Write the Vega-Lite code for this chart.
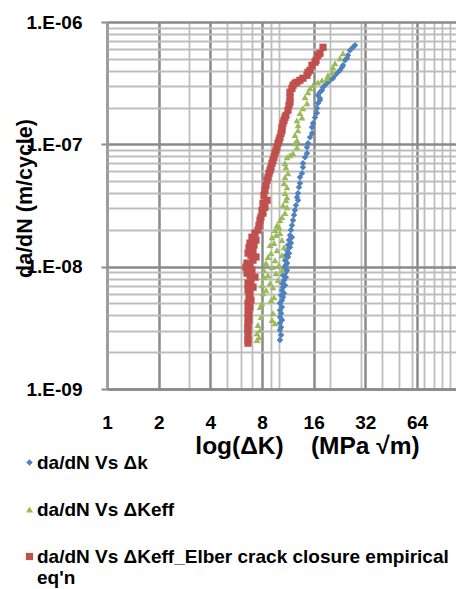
{
"$schema": "https://vega.github.io/schema/vega-lite/v6.json",
"width": 349, "height": 367,
"autosize": {"type": "none"},
"padding": {"left": 107, "top": 22, "right": 0, "bottom": 200},
"background": "white",
"config": {"view": {"stroke": null}, "font": "Liberation Sans"},
"data": {"values": [
{"series":"da/dN Vs Δk","dK":27.86,"dadN":6.45e-7},
{"series":"da/dN Vs Δk","dK":27.12,"dadN":6.21e-7},
{"series":"da/dN Vs Δk","dK":26.05,"dadN":5.87e-7},
{"series":"da/dN Vs Δk","dK":25.35,"dadN":5.34e-7},
{"series":"da/dN Vs Δk","dK":25.02,"dadN":5.05e-7},
{"series":"da/dN Vs Δk","dK":24.35,"dadN":4.86e-7},
{"series":"da/dN Vs Δk","dK":23.71,"dadN":4.43e-7},
{"series":"da/dN Vs Δk","dK":23.40,"dadN":4.26e-7},
{"series":"da/dN Vs Δk","dK":22.77,"dadN":4.03e-7},
{"series":"da/dN Vs Δk","dK":22.17,"dadN":3.88e-7},
{"series":"da/dN Vs Δk","dK":21.30,"dadN":3.67e-7},
{"series":"da/dN Vs Δk","dK":20.73,"dadN":3.47e-7},
{"series":"da/dN Vs Δk","dK":19.92,"dadN":3.34e-7},
{"series":"da/dN Vs Δk","dK":19.38,"dadN":3.22e-7},
{"series":"da/dN Vs Δk","dK":18.62,"dadN":3.04e-7},
{"series":"da/dN Vs Δk","dK":18.13,"dadN":2.93e-7},
{"series":"da/dN Vs Δk","dK":17.89,"dadN":2.77e-7},
{"series":"da/dN Vs Δk","dK":17.41,"dadN":2.67e-7},
{"series":"da/dN Vs Δk","dK":16.95,"dadN":2.52e-7},
{"series":"da/dN Vs Δk","dK":17.41,"dadN":2.38e-7},
{"series":"da/dN Vs Δk","dK":17.41,"dadN":2.29e-7},
{"series":"da/dN Vs Δk","dK":16.95,"dadN":2.17e-7},
{"series":"da/dN Vs Δk","dK":16.72,"dadN":1.97e-7},
{"series":"da/dN Vs Δk","dK":16.72,"dadN":1.80e-7},
{"series":"da/dN Vs Δk","dK":16.29,"dadN":1.66e-7},
{"series":"da/dN Vs Δk","dK":15.86,"dadN":1.49e-7},
{"series":"da/dN Vs Δk","dK":15.64,"dadN":1.38e-7},
{"series":"da/dN Vs Δk","dK":15.64,"dadN":1.23e-7},
{"series":"da/dN Vs Δk","dK":15.23,"dadN":1.14e-7},
{"series":"da/dN Vs Δk","dK":14.83,"dadN":1.02e-7},
{"series":"da/dN Vs Δk","dK":14.63,"dadN":9.47e-8},
{"series":"da/dN Vs Δk","dK":14.63,"dadN":8.46e-8},
{"series":"da/dN Vs Δk","dK":14.24,"dadN":7.84e-8},
{"series":"da/dN Vs Δk","dK":13.86,"dadN":7.01e-8},
{"series":"da/dN Vs Δk","dK":13.86,"dadN":6.50e-8},
{"series":"da/dN Vs Δk","dK":13.68,"dadN":5.81e-8},
{"series":"da/dN Vs Δk","dK":13.31,"dadN":5.38e-8},
{"series":"da/dN Vs Δk","dK":13.31,"dadN":4.81e-8},
{"series":"da/dN Vs Δk","dK":13.14,"dadN":4.46e-8},
{"series":"da/dN Vs Δk","dK":12.97,"dadN":3.99e-8},
{"series":"da/dN Vs Δk","dK":12.79,"dadN":3.70e-8},
{"series":"da/dN Vs Δk","dK":12.97,"dadN":3.49e-8},
{"series":"da/dN Vs Δk","dK":12.62,"dadN":3.18e-8},
{"series":"da/dN Vs Δk","dK":12.45,"dadN":2.89e-8},
{"series":"da/dN Vs Δk","dK":12.29,"dadN":2.64e-8},
{"series":"da/dN Vs Δk","dK":12.13,"dadN":2.40e-8},
{"series":"da/dN Vs Δk","dK":11.96,"dadN":2.18e-8},
{"series":"da/dN Vs Δk","dK":11.80,"dadN":1.99e-8},
{"series":"da/dN Vs Δk","dK":11.65,"dadN":1.81e-8},
{"series":"da/dN Vs Δk","dK":11.96,"dadN":1.74e-8},
{"series":"da/dN Vs Δk","dK":11.49,"dadN":1.65e-8},
{"series":"da/dN Vs Δk","dK":11.80,"dadN":1.56e-8},
{"series":"da/dN Vs Δk","dK":11.34,"dadN":1.50e-8},
{"series":"da/dN Vs Δk","dK":11.65,"dadN":1.44e-8},
{"series":"da/dN Vs Δk","dK":11.19,"dadN":1.36e-8},
{"series":"da/dN Vs Δk","dK":11.49,"dadN":1.29e-8},
{"series":"da/dN Vs Δk","dK":11.03,"dadN":1.24e-8},
{"series":"da/dN Vs Δk","dK":11.34,"dadN":1.20e-8},
{"series":"da/dN Vs Δk","dK":10.89,"dadN":1.13e-8},
{"series":"da/dN Vs Δk","dK":11.19,"dadN":1.07e-8},
{"series":"da/dN Vs Δk","dK":11.03,"dadN":1.03e-8},
{"series":"da/dN Vs Δk","dK":10.75,"dadN":9.91e-9},
{"series":"da/dN Vs Δk","dK":11.19,"dadN":9.36e-9},
{"series":"da/dN Vs Δk","dK":10.89,"dadN":8.85e-9},
{"series":"da/dN Vs Δk","dK":10.60,"dadN":8.52e-9},
{"series":"da/dN Vs Δk","dK":11.03,"dadN":8.21e-9},
{"series":"da/dN Vs Δk","dK":10.75,"dadN":7.76e-9},
{"series":"da/dN Vs Δk","dK":10.46,"dadN":7.33e-9},
{"series":"da/dN Vs Δk","dK":10.89,"dadN":7.06e-9},
{"series":"da/dN Vs Δk","dK":10.60,"dadN":6.80e-9},
{"series":"da/dN Vs Δk","dK":10.46,"dadN":6.43e-9},
{"series":"da/dN Vs Δk","dK":10.75,"dadN":6.07e-9},
{"series":"da/dN Vs Δk","dK":10.33,"dadN":5.85e-9},
{"series":"da/dN Vs Δk","dK":10.60,"dadN":5.63e-9},
{"series":"da/dN Vs Δk","dK":10.46,"dadN":5.32e-9},
{"series":"da/dN Vs Δk","dK":10.18,"dadN":5.03e-9},
{"series":"da/dN Vs Δk","dK":10.46,"dadN":4.67e-9},
{"series":"da/dN Vs Δk","dK":10.18,"dadN":4.41e-9},
{"series":"da/dN Vs Δk","dK":10.33,"dadN":4.17e-9},
{"series":"da/dN Vs Δk","dK":10.18,"dadN":3.87e-9},
{"series":"da/dN Vs Δk","dK":10.46,"dadN":3.66e-9},
{"series":"da/dN Vs Δk","dK":10.18,"dadN":3.45e-9},
{"series":"da/dN Vs Δk","dK":10.33,"dadN":3.20e-9},
{"series":"da/dN Vs Δk","dK":10.18,"dadN":3.03e-9},
{"series":"da/dN Vs Δk","dK":10.33,"dadN":2.76e-9},
{"series":"da/dN Vs Δk","dK":10.18,"dadN":2.51e-9},
{"series":"da/dN Vs ΔKeff","dK":23.71,"dadN":5.55e-7},
{"series":"da/dN Vs ΔKeff","dK":22.77,"dadN":5.05e-7},
{"series":"da/dN Vs ΔKeff","dK":21.30,"dadN":4.60e-7},
{"series":"da/dN Vs ΔKeff","dK":20.73,"dadN":4.26e-7},
{"series":"da/dN Vs ΔKeff","dK":20.46,"dadN":3.88e-7},
{"series":"da/dN Vs ΔKeff","dK":19.38,"dadN":3.67e-7},
{"series":"da/dN Vs ΔKeff","dK":19.13,"dadN":3.47e-7},
{"series":"da/dN Vs ΔKeff","dK":17.89,"dadN":3.34e-7},
{"series":"da/dN Vs ΔKeff","dK":16.95,"dadN":3.22e-7},
{"series":"da/dN Vs ΔKeff","dK":15.86,"dadN":3.04e-7},
{"series":"da/dN Vs ΔKeff","dK":15.23,"dadN":2.87e-7},
{"series":"da/dN Vs ΔKeff","dK":14.83,"dadN":2.67e-7},
{"series":"da/dN Vs ΔKeff","dK":14.24,"dadN":2.43e-7},
{"series":"da/dN Vs ΔKeff","dK":14.63,"dadN":2.17e-7},
{"series":"da/dN Vs ΔKeff","dK":13.86,"dadN":1.97e-7},
{"series":"da/dN Vs ΔKeff","dK":13.31,"dadN":1.80e-7},
{"series":"da/dN Vs ΔKeff","dK":13.68,"dadN":1.66e-7},
{"series":"da/dN Vs ΔKeff","dK":12.79,"dadN":1.57e-7},
{"series":"da/dN Vs ΔKeff","dK":12.97,"dadN":1.43e-7},
{"series":"da/dN Vs ΔKeff","dK":12.97,"dadN":1.30e-7},
{"series":"da/dN Vs ΔKeff","dK":12.45,"dadN":1.19e-7},
{"series":"da/dN Vs ΔKeff","dK":12.79,"dadN":1.08e-7},
{"series":"da/dN Vs ΔKeff","dK":12.45,"dadN":1.02e-7},
{"series":"da/dN Vs ΔKeff","dK":12.79,"dadN":9.47e-8},
{"series":"da/dN Vs ΔKeff","dK":12.13,"dadN":8.46e-8},
{"series":"da/dN Vs ΔKeff","dK":11.65,"dadN":8.15e-8},
{"series":"da/dN Vs ΔKeff","dK":11.19,"dadN":7.84e-8},
{"series":"da/dN Vs ΔKeff","dK":10.89,"dadN":7.01e-8},
{"series":"da/dN Vs ΔKeff","dK":11.03,"dadN":6.50e-8},
{"series":"da/dN Vs ΔKeff","dK":11.34,"dadN":5.81e-8},
{"series":"da/dN Vs ΔKeff","dK":10.89,"dadN":5.38e-8},
{"series":"da/dN Vs ΔKeff","dK":10.75,"dadN":4.81e-8},
{"series":"da/dN Vs ΔKeff","dK":11.19,"dadN":4.46e-8},
{"series":"da/dN Vs ΔKeff","dK":10.89,"dadN":3.99e-8},
{"series":"da/dN Vs ΔKeff","dK":11.19,"dadN":3.70e-8},
{"series":"da/dN Vs ΔKeff","dK":11.03,"dadN":3.49e-8},
{"series":"da/dN Vs ΔKeff","dK":10.60,"dadN":3.18e-8},
{"series":"da/dN Vs ΔKeff","dK":11.19,"dadN":3.06e-8},
{"series":"da/dN Vs ΔKeff","dK":10.89,"dadN":2.74e-8},
{"series":"da/dN Vs ΔKeff","dK":10.46,"dadN":2.54e-8},
{"series":"da/dN Vs ΔKeff","dK":10.18,"dadN":2.40e-8},
{"series":"da/dN Vs ΔKeff","dK":9.78,"dadN":2.18e-8},
{"series":"da/dN Vs ΔKeff","dK":10.05,"dadN":2.10e-8},
{"series":"da/dN Vs ΔKeff","dK":9.52,"dadN":1.99e-8},
{"series":"da/dN Vs ΔKeff","dK":10.18,"dadN":1.88e-8},
{"series":"da/dN Vs ΔKeff","dK":9.65,"dadN":1.81e-8},
{"series":"da/dN Vs ΔKeff","dK":9.15,"dadN":1.74e-8},
{"series":"da/dN Vs ΔKeff","dK":10.46,"dadN":1.65e-8},
{"series":"da/dN Vs ΔKeff","dK":9.40,"dadN":1.56e-8},
{"series":"da/dN Vs ΔKeff","dK":8.91,"dadN":1.50e-8},
{"series":"da/dN Vs ΔKeff","dK":10.75,"dadN":1.44e-8},
{"series":"da/dN Vs ΔKeff","dK":9.78,"dadN":1.36e-8},
{"series":"da/dN Vs ΔKeff","dK":9.03,"dadN":1.29e-8},
{"series":"da/dN Vs ΔKeff","dK":10.46,"dadN":1.24e-8},
{"series":"da/dN Vs ΔKeff","dK":8.67,"dadN":1.20e-8},
{"series":"da/dN Vs ΔKeff","dK":9.52,"dadN":1.13e-8},
{"series":"da/dN Vs ΔKeff","dK":8.44,"dadN":1.07e-8},
{"series":"da/dN Vs ΔKeff","dK":10.05,"dadN":1.03e-8},
{"series":"da/dN Vs ΔKeff","dK":9.15,"dadN":9.91e-9},
{"series":"da/dN Vs ΔKeff","dK":8.21,"dadN":9.36e-9},
{"series":"da/dN Vs ΔKeff","dK":10.46,"dadN":9.36e-9},
{"series":"da/dN Vs ΔKeff","dK":9.65,"dadN":8.85e-9},
{"series":"da/dN Vs ΔKeff","dK":8.67,"dadN":8.52e-9},
{"series":"da/dN Vs ΔKeff","dK":8.21,"dadN":8.21e-9},
{"series":"da/dN Vs ΔKeff","dK":9.91,"dadN":7.76e-9},
{"series":"da/dN Vs ΔKeff","dK":8.91,"dadN":7.33e-9},
{"series":"da/dN Vs ΔKeff","dK":8.00,"dadN":7.06e-9},
{"series":"da/dN Vs ΔKeff","dK":9.27,"dadN":6.80e-9},
{"series":"da/dN Vs ΔKeff","dK":8.44,"dadN":6.43e-9},
{"series":"da/dN Vs ΔKeff","dK":8.11,"dadN":6.07e-9},
{"series":"da/dN Vs ΔKeff","dK":9.40,"dadN":5.63e-9},
{"series":"da/dN Vs ΔKeff","dK":9.03,"dadN":5.32e-9},
{"series":"da/dN Vs ΔKeff","dK":8.00,"dadN":5.03e-9},
{"series":"da/dN Vs ΔKeff","dK":7.79,"dadN":4.67e-9},
{"series":"da/dN Vs ΔKeff","dK":9.27,"dadN":4.17e-9},
{"series":"da/dN Vs ΔKeff","dK":7.89,"dadN":3.87e-9},
{"series":"da/dN Vs ΔKeff","dK":9.15,"dadN":3.66e-9},
{"series":"da/dN Vs ΔKeff","dK":9.52,"dadN":3.45e-9},
{"series":"da/dN Vs ΔKeff","dK":7.58,"dadN":3.33e-9},
{"series":"da/dN Vs ΔKeff","dK":7.79,"dadN":3.03e-9},
{"series":"da/dN Vs ΔKeff","dK":7.48,"dadN":2.86e-9},
{"series":"da/dN Vs ΔKeff","dK":7.68,"dadN":2.65e-9},
{"series":"da/dN Vs ΔKeff","dK":7.48,"dadN":2.51e-9},
{"series":"da/dN Vs ΔKeff_Elber crack closure empirical eq'n","dK":18.13,"dadN":6.21e-7},
{"series":"da/dN Vs ΔKeff_Elber crack closure empirical eq'n","dK":17.41,"dadN":5.55e-7},
{"series":"da/dN Vs ΔKeff_Elber crack closure empirical eq'n","dK":16.95,"dadN":5.34e-7},
{"series":"da/dN Vs ΔKeff_Elber crack closure empirical eq'n","dK":16.51,"dadN":4.86e-7},
{"series":"da/dN Vs ΔKeff_Elber crack closure empirical eq'n","dK":16.29,"dadN":4.69e-7},
{"series":"da/dN Vs ΔKeff_Elber crack closure empirical eq'n","dK":15.64,"dadN":4.43e-7},
{"series":"da/dN Vs ΔKeff_Elber crack closure empirical eq'n","dK":15.23,"dadN":4.03e-7},
{"series":"da/dN Vs ΔKeff_Elber crack closure empirical eq'n","dK":14.83,"dadN":3.88e-7},
{"series":"da/dN Vs ΔKeff_Elber crack closure empirical eq'n","dK":14.63,"dadN":3.67e-7},
{"series":"da/dN Vs ΔKeff_Elber crack closure empirical eq'n","dK":13.86,"dadN":3.47e-7},
{"series":"da/dN Vs ΔKeff_Elber crack closure empirical eq'n","dK":13.31,"dadN":3.34e-7},
{"series":"da/dN Vs ΔKeff_Elber crack closure empirical eq'n","dK":12.79,"dadN":3.22e-7},
{"series":"da/dN Vs ΔKeff_Elber crack closure empirical eq'n","dK":12.45,"dadN":3.16e-7},
{"series":"da/dN Vs ΔKeff_Elber crack closure empirical eq'n","dK":12.13,"dadN":3.04e-7},
{"series":"da/dN Vs ΔKeff_Elber crack closure empirical eq'n","dK":11.96,"dadN":2.87e-7},
{"series":"da/dN Vs ΔKeff_Elber crack closure empirical eq'n","dK":11.65,"dadN":2.67e-7},
{"series":"da/dN Vs ΔKeff_Elber crack closure empirical eq'n","dK":11.65,"dadN":2.43e-7},
{"series":"da/dN Vs ΔKeff_Elber crack closure empirical eq'n","dK":11.65,"dadN":2.21e-7},
{"series":"da/dN Vs ΔKeff_Elber crack closure empirical eq'n","dK":11.49,"dadN":2.09e-7},
{"series":"da/dN Vs ΔKeff_Elber crack closure empirical eq'n","dK":11.34,"dadN":1.90e-7},
{"series":"da/dN Vs ΔKeff_Elber crack closure empirical eq'n","dK":11.03,"dadN":1.73e-7},
{"series":"da/dN Vs ΔKeff_Elber crack closure empirical eq'n","dK":10.89,"dadN":1.66e-7},
{"series":"da/dN Vs ΔKeff_Elber crack closure empirical eq'n","dK":10.75,"dadN":1.57e-7},
{"series":"da/dN Vs ΔKeff_Elber crack closure empirical eq'n","dK":10.60,"dadN":1.49e-7},
{"series":"da/dN Vs ΔKeff_Elber crack closure empirical eq'n","dK":10.46,"dadN":1.38e-7},
{"series":"da/dN Vs ΔKeff_Elber crack closure empirical eq'n","dK":10.46,"dadN":1.30e-7},
{"series":"da/dN Vs ΔKeff_Elber crack closure empirical eq'n","dK":10.33,"dadN":1.23e-7},
{"series":"da/dN Vs ΔKeff_Elber crack closure empirical eq'n","dK":10.18,"dadN":1.14e-7},
{"series":"da/dN Vs ΔKeff_Elber crack closure empirical eq'n","dK":10.05,"dadN":1.08e-7},
{"series":"da/dN Vs ΔKeff_Elber crack closure empirical eq'n","dK":9.91,"dadN":1.02e-7},
{"series":"da/dN Vs ΔKeff_Elber crack closure empirical eq'n","dK":9.78,"dadN":9.47e-8},
{"series":"da/dN Vs ΔKeff_Elber crack closure empirical eq'n","dK":9.65,"dadN":8.95e-8},
{"series":"da/dN Vs ΔKeff_Elber crack closure empirical eq'n","dK":9.52,"dadN":8.46e-8},
{"series":"da/dN Vs ΔKeff_Elber crack closure empirical eq'n","dK":9.40,"dadN":7.84e-8},
{"series":"da/dN Vs ΔKeff_Elber crack closure empirical eq'n","dK":9.27,"dadN":7.42e-8},
{"series":"da/dN Vs ΔKeff_Elber crack closure empirical eq'n","dK":9.15,"dadN":7.01e-8},
{"series":"da/dN Vs ΔKeff_Elber crack closure empirical eq'n","dK":9.03,"dadN":6.50e-8},
{"series":"da/dN Vs ΔKeff_Elber crack closure empirical eq'n","dK":8.91,"dadN":6.14e-8},
{"series":"da/dN Vs ΔKeff_Elber crack closure empirical eq'n","dK":8.79,"dadN":5.81e-8},
{"series":"da/dN Vs ΔKeff_Elber crack closure empirical eq'n","dK":8.67,"dadN":5.38e-8},
{"series":"da/dN Vs ΔKeff_Elber crack closure empirical eq'n","dK":8.56,"dadN":5.09e-8},
{"series":"da/dN Vs ΔKeff_Elber crack closure empirical eq'n","dK":8.44,"dadN":4.63e-8},
{"series":"da/dN Vs ΔKeff_Elber crack closure empirical eq'n","dK":8.33,"dadN":4.22e-8},
{"series":"da/dN Vs ΔKeff_Elber crack closure empirical eq'n","dK":8.21,"dadN":3.84e-8},
{"series":"da/dN Vs ΔKeff_Elber crack closure empirical eq'n","dK":8.56,"dadN":3.49e-8},
{"series":"da/dN Vs ΔKeff_Elber crack closure empirical eq'n","dK":8.11,"dadN":3.30e-8},
{"series":"da/dN Vs ΔKeff_Elber crack closure empirical eq'n","dK":8.33,"dadN":3.06e-8},
{"series":"da/dN Vs ΔKeff_Elber crack closure empirical eq'n","dK":8.00,"dadN":2.89e-8},
{"series":"da/dN Vs ΔKeff_Elber crack closure empirical eq'n","dK":8.11,"dadN":2.74e-8},
{"series":"da/dN Vs ΔKeff_Elber crack closure empirical eq'n","dK":7.89,"dadN":2.54e-8},
{"series":"da/dN Vs ΔKeff_Elber crack closure empirical eq'n","dK":7.79,"dadN":2.40e-8},
{"series":"da/dN Vs ΔKeff_Elber crack closure empirical eq'n","dK":7.68,"dadN":2.18e-8},
{"series":"da/dN Vs ΔKeff_Elber crack closure empirical eq'n","dK":7.58,"dadN":1.99e-8},
{"series":"da/dN Vs ΔKeff_Elber crack closure empirical eq'n","dK":7.28,"dadN":1.88e-8},
{"series":"da/dN Vs ΔKeff_Elber crack closure empirical eq'n","dK":6.99,"dadN":1.74e-8},
{"series":"da/dN Vs ΔKeff_Elber crack closure empirical eq'n","dK":7.38,"dadN":1.65e-8},
{"series":"da/dN Vs ΔKeff_Elber crack closure empirical eq'n","dK":6.81,"dadN":1.56e-8},
{"series":"da/dN Vs ΔKeff_Elber crack closure empirical eq'n","dK":7.19,"dadN":1.50e-8},
{"series":"da/dN Vs ΔKeff_Elber crack closure empirical eq'n","dK":6.72,"dadN":1.44e-8},
{"series":"da/dN Vs ΔKeff_Elber crack closure empirical eq'n","dK":7.09,"dadN":1.36e-8},
{"series":"da/dN Vs ΔKeff_Elber crack closure empirical eq'n","dK":6.63,"dadN":1.29e-8},
{"series":"da/dN Vs ΔKeff_Elber crack closure empirical eq'n","dK":6.90,"dadN":1.24e-8},
{"series":"da/dN Vs ΔKeff_Elber crack closure empirical eq'n","dK":7.38,"dadN":1.20e-8},
{"series":"da/dN Vs ΔKeff_Elber crack closure empirical eq'n","dK":7.09,"dadN":1.13e-8},
{"series":"da/dN Vs ΔKeff_Elber crack closure empirical eq'n","dK":6.54,"dadN":1.07e-8},
{"series":"da/dN Vs ΔKeff_Elber crack closure empirical eq'n","dK":6.81,"dadN":1.03e-8},
{"series":"da/dN Vs ΔKeff_Elber crack closure empirical eq'n","dK":6.45,"dadN":9.91e-9},
{"series":"da/dN Vs ΔKeff_Elber crack closure empirical eq'n","dK":6.99,"dadN":9.36e-9},
{"series":"da/dN Vs ΔKeff_Elber crack closure empirical eq'n","dK":6.54,"dadN":8.85e-9},
{"series":"da/dN Vs ΔKeff_Elber crack closure empirical eq'n","dK":6.81,"dadN":8.52e-9},
{"series":"da/dN Vs ΔKeff_Elber crack closure empirical eq'n","dK":7.28,"dadN":8.21e-9},
{"series":"da/dN Vs ΔKeff_Elber crack closure empirical eq'n","dK":6.90,"dadN":7.76e-9},
{"series":"da/dN Vs ΔKeff_Elber crack closure empirical eq'n","dK":6.63,"dadN":7.33e-9},
{"series":"da/dN Vs ΔKeff_Elber crack closure empirical eq'n","dK":6.81,"dadN":7.06e-9},
{"series":"da/dN Vs ΔKeff_Elber crack closure empirical eq'n","dK":7.09,"dadN":6.80e-9},
{"series":"da/dN Vs ΔKeff_Elber crack closure empirical eq'n","dK":6.63,"dadN":6.43e-9},
{"series":"da/dN Vs ΔKeff_Elber crack closure empirical eq'n","dK":6.81,"dadN":6.07e-9},
{"series":"da/dN Vs ΔKeff_Elber crack closure empirical eq'n","dK":6.72,"dadN":5.63e-9},
{"series":"da/dN Vs ΔKeff_Elber crack closure empirical eq'n","dK":6.90,"dadN":5.32e-9},
{"series":"da/dN Vs ΔKeff_Elber crack closure empirical eq'n","dK":6.63,"dadN":5.03e-9},
{"series":"da/dN Vs ΔKeff_Elber crack closure empirical eq'n","dK":6.81,"dadN":4.67e-9},
{"series":"da/dN Vs ΔKeff_Elber crack closure empirical eq'n","dK":6.63,"dadN":4.41e-9},
{"series":"da/dN Vs ΔKeff_Elber crack closure empirical eq'n","dK":6.72,"dadN":4.17e-9},
{"series":"da/dN Vs ΔKeff_Elber crack closure empirical eq'n","dK":6.63,"dadN":3.87e-9},
{"series":"da/dN Vs ΔKeff_Elber crack closure empirical eq'n","dK":6.72,"dadN":3.66e-9},
{"series":"da/dN Vs ΔKeff_Elber crack closure empirical eq'n","dK":6.63,"dadN":3.45e-9},
{"series":"da/dN Vs ΔKeff_Elber crack closure empirical eq'n","dK":6.63,"dadN":3.20e-9},
{"series":"da/dN Vs ΔKeff_Elber crack closure empirical eq'n","dK":6.63,"dadN":3.03e-9},
{"series":"da/dN Vs ΔKeff_Elber crack closure empirical eq'n","dK":6.63,"dadN":2.76e-9},
{"series":"da/dN Vs ΔKeff_Elber crack closure empirical eq'n","dK":6.63,"dadN":2.51e-9},
{"series":"da/dN Vs ΔKeff_Elber crack closure empirical eq'n","dK":6.63,"dadN":2.37e-9}
]},
"mark": {"type": "point", "filled": true, "opacity": 1},
"encoding": {
"x": {"field": "dK", "type": "quantitative",
 "scale": {"type": "log", "base": 2, "domain": [1, 108], "nice": false},
 "axis": {
  "values": [1,2,3,4,5,6,7,8,9,10,16,20,30,32,40,50,60,64,70,80,90,100],
  "title": "log(ΔK)\u00a0\u00a0\u00a0\u00a0(MPa √m)",
  "grid": true,
  "gridColor": {"condition": {"test": "indexof([1,2,4,8,16,32,64], datum.value) >= 0", "value": "#8a8a8a"}, "value": "#bdbdbd"},
  "gridWidth": {"condition": {"test": "indexof([1,2,4,8,16,32,64], datum.value) >= 0", "value": 2.5}, "value": 1.8},
  "ticks": false, "tickSize": 0,
  "domainColor": "#8a8a8a", "domainWidth": 2.5,
  "labelExpr": "indexof([1,2,4,8,16,32,64], datum.value) >= 0 ? '' + datum.value : ''",
  "labelFont": "Liberation Sans", "labelFontWeight": "bold", "labelFontSize": 19, "labelColor": "#000000",
  "labelPadding": 24, "labelFlush": false, "labelOverlap": false, "labelBound": false,
  "titleFont": "Liberation Sans", "titleFontWeight": "bold", "titleFontSize": 24.5, "titleColor": "#000000",
  "titleX": 200, "titleY": 45, "titleBaseline": "top", "titleAlign": "center"
 }},
"y": {"field": "dadN", "type": "quantitative",
 "scale": {"type": "log", "domain": [1e-9, 1e-6], "nice": false},
 "axis": {
  "values": [1e-9,2e-9,3e-9,4e-9,5e-9,6e-9,7e-9,8e-9,9e-9,1e-8,2e-8,3e-8,4e-8,5e-8,6e-8,7e-8,8e-8,9e-8,1e-7,2e-7,3e-7,4e-7,5e-7,6e-7,7e-7,8e-7,9e-7,1e-6],
  "title": "da/dN (m/cycle)",
  "grid": true,
  "gridColor": {"condition": {"test": "abs(log(datum.value)/LN10 - round(log(datum.value)/LN10)) < 0.01", "value": "#8a8a8a"}, "value": "#bdbdbd"},
  "gridWidth": {"condition": {"test": "abs(log(datum.value)/LN10 - round(log(datum.value)/LN10)) < 0.01", "value": 2.5}, "value": 1.8},
  "ticks": true, "tickSize": 6, "tickWidth": 2,
  "tickColor": {"condition": {"test": "abs(log(datum.value)/LN10 - round(log(datum.value)/LN10)) < 0.01", "value": "#8a8a8a"}, "value": "transparent"},
  "domainColor": "#9a9a9a", "domainWidth": 2,
  "labelExpr": "abs(log(datum.value)/LN10 - round(log(datum.value)/LN10)) < 0.01 ? '1.E-0' + (-round(log(datum.value)/LN10)) : ''",
  "labelFont": "Liberation Sans", "labelFontWeight": "bold", "labelFontSize": 19, "labelColor": "#000000",
  "labelPadding": 19, "labelFlush": false, "labelOverlap": false, "labelBound": false,
  "titleFont": "Liberation Sans", "titleFontWeight": "bold", "titleFontSize": 21.5, "titleColor": "#000000",
  "titleX": -71, "titleY": 176, "titleAngle": 270, "titleBaseline": "bottom", "titleAlign": "center"
 }},
"color": {"field": "series", "type": "nominal",
 "scale": {"domain": ["da/dN Vs Δk", "da/dN Vs ΔKeff", "da/dN Vs ΔKeff_Elber crack closure empirical eq'n"], "range": ["#4F81BD", "#9BBB59", "#C0504D"]},
 "legend": {"orient": "none", "legendX": -87, "legendY": 431, "direction": "vertical", "title": null, "padding": 0,
  "labelFont": "Liberation Sans", "labelFontWeight": "bold", "labelFontSize": 19, "labelColor": "#000000", "labelLimit": 1000,
  "rowPadding": 27, "symbolSize": 30, "labelOffset": -2,
  "labelExpr": "indexof(datum.label, 'Elber') >= 0 ? ['da/dN Vs ΔKeff_Elber crack closure empirical', \"eq'n\"] : datum.label"}},
"shape": {"field": "series", "type": "nominal",
 "scale": {"domain": ["da/dN Vs Δk", "da/dN Vs ΔKeff", "da/dN Vs ΔKeff_Elber crack closure empirical eq'n"], "range": ["diamond", "triangle-up", "square"]},
 "legend": {"orient": "none", "legendX": -87, "legendY": 431, "direction": "vertical", "title": null, "padding": 0,
  "labelFont": "Liberation Sans", "labelFontWeight": "bold", "labelFontSize": 19, "labelColor": "#000000", "labelLimit": 1000,
  "rowPadding": 27, "symbolSize": 30, "labelOffset": -2,
  "labelExpr": "indexof(datum.label, 'Elber') >= 0 ? ['da/dN Vs ΔKeff_Elber crack closure empirical', \"eq'n\"] : datum.label"}},
"size": {"field": "series", "type": "nominal",
 "scale": {"domain": ["da/dN Vs Δk", "da/dN Vs ΔKeff", "da/dN Vs ΔKeff_Elber crack closure empirical eq'n"], "range": [42, 52, 56]},
 "legend": null}
}
}
